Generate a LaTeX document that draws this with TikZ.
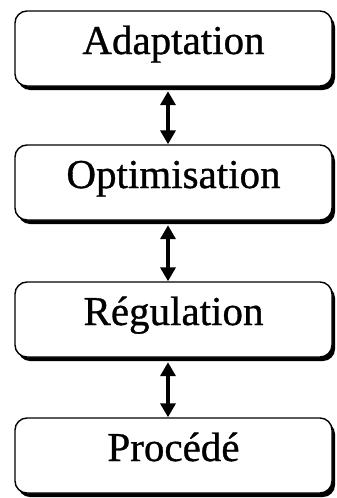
\documentclass[tikz,border=0pt]{standalone}
\usepackage{fontspec}
\setmainfont{Liberation Serif}[FakeBold=0.8]
\usetikzlibrary{arrows.meta,shadows}
\tikzset{
  level/.style={draw=black, line width=1.4pt, rounded corners=12pt, fill=white,
    minimum width=317pt, inner sep=0pt, text height=43pt, text depth=32pt,
    font=\fontsize{41}{48}\selectfont,
    drop shadow={fill=black, opacity=1, shadow xshift=3pt, shadow yshift=-4pt}},
  link/.style={line width=3.6pt, {Triangle[width=15pt,length=14pt]}-{Triangle[width=15pt,length=14pt]}, shorten <=0.5pt}
}
\begin{document}
\begin{tikzpicture}[x=1pt,y=1pt]
  \useasboundingbox (0,0) rectangle (337,-498);
  \node[level] (adapt) at (173.5,-48.5) {Adaptation};
  \node[level] (optim) at (173.5,-182.5) {Optimisation};
  \node[level] (regul) at (173.5,-319.5) {Régulation};
  \node[level] (proc)  at (173.5,-455.5) {Procédé};
  \coordinate (ax) at (168,0);
  \draw[link] ([yshift=-4pt]adapt.south -| ax) -- (optim.north -| ax);
  \draw[link] ([yshift=-4pt]optim.south -| ax) -- (regul.north -| ax);
  \draw[link] ([yshift=-4pt]regul.south -| ax) -- (proc.north -| ax);
\end{tikzpicture}
\end{document}
